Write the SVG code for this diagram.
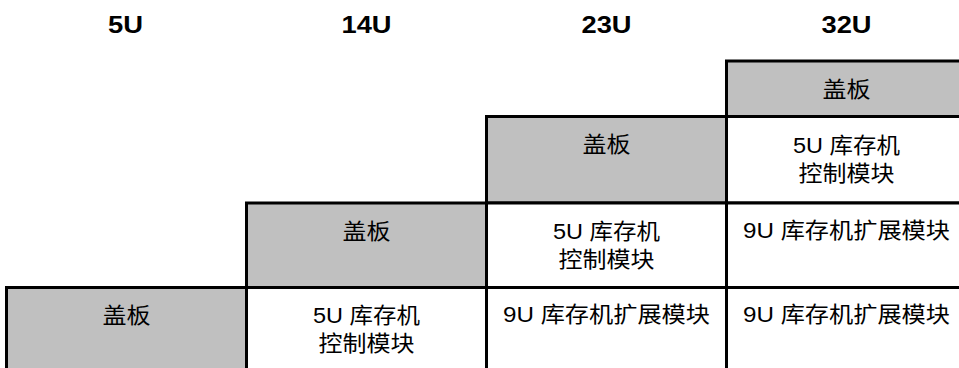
<svg xmlns="http://www.w3.org/2000/svg" width="959" height="368" viewBox="0 0 959 368">
<style>
.cell{stroke:#000;stroke-width:3;fill:#fff}
.cover{fill:#c0c0c0}
.hd{font-family:"Liberation Sans","Noto Sans CJK SC",sans-serif;font-weight:bold;font-size:24px;fill:#000;text-anchor:middle}
.t{font-family:"Liberation Sans","Noto Sans CJK SC",sans-serif;font-size:22px;fill:#000;text-anchor:middle}
</style>
<rect width="959" height="368" fill="#fff"/>
<g id="headers">
<text class="hd" x="125.5" y="33" textLength="35" lengthAdjust="spacingAndGlyphs">5U</text>
<text class="hd" x="366.5" y="33" textLength="50" lengthAdjust="spacingAndGlyphs">14U</text>
<text class="hd" x="606.5" y="33" textLength="50" lengthAdjust="spacingAndGlyphs">23U</text>
<text class="hd" x="846.5" y="33" textLength="50" lengthAdjust="spacingAndGlyphs">32U</text>
</g>
<g id="col1-cover">
<rect class="cell cover" x="6.5" y="287.5" width="240" height="90"/>
<text class="t" x="126.5" y="323" textLength="48" lengthAdjust="spacingAndGlyphs">盖板</text>
</g>
<g id="col2-cover">
<rect class="cell cover" x="246.5" y="203" width="240" height="84.5"/>
<text class="t" x="366.5" y="238.5" textLength="48" lengthAdjust="spacingAndGlyphs">盖板</text>
</g>
<g id="col2-ctrl">
<rect class="cell" x="246.5" y="287.5" width="240" height="90"/>
<text class="t" x="366.5" y="323" textLength="107" lengthAdjust="spacingAndGlyphs">5U 库存机</text>
<text class="t" x="366.5" y="351" textLength="96" lengthAdjust="spacingAndGlyphs">控制模块</text>
</g>
<g id="col3-cover">
<rect class="cell cover" x="486.5" y="116.5" width="240" height="86.5"/>
<text class="t" x="606.5" y="152" textLength="48" lengthAdjust="spacingAndGlyphs">盖板</text>
</g>
<g id="col3-ctrl">
<rect class="cell" x="486.5" y="203" width="240" height="84.5"/>
<text class="t" x="606.5" y="238.5" textLength="107" lengthAdjust="spacingAndGlyphs">5U 库存机</text>
<text class="t" x="606.5" y="266.5" textLength="96" lengthAdjust="spacingAndGlyphs">控制模块</text>
</g>
<g id="col3-exp">
<rect class="cell" x="486.5" y="287.5" width="240" height="90"/>
<text class="t" x="606.5" y="322" textLength="207" lengthAdjust="spacingAndGlyphs">9U 库存机扩展模块</text>
</g>
<g id="col4-cover">
<rect class="cell cover" x="726.5" y="61" width="240" height="55.5"/>
<text class="t" x="846.5" y="96.5" textLength="48" lengthAdjust="spacingAndGlyphs">盖板</text>
</g>
<g id="col4-ctrl">
<rect class="cell" x="726.5" y="116.5" width="240" height="86.5"/>
<text class="t" x="846.5" y="152.5" textLength="107" lengthAdjust="spacingAndGlyphs">5U 库存机</text>
<text class="t" x="846.5" y="180.5" textLength="96" lengthAdjust="spacingAndGlyphs">控制模块</text>
</g>
<g id="col4-exp1">
<rect class="cell" x="726.5" y="203" width="240" height="84.5"/>
<text class="t" x="846.5" y="238" textLength="207" lengthAdjust="spacingAndGlyphs">9U 库存机扩展模块</text>
</g>
<g id="col4-exp2">
<rect class="cell" x="726.5" y="287.5" width="240" height="90"/>
<text class="t" x="846.5" y="322" textLength="207" lengthAdjust="spacingAndGlyphs">9U 库存机扩展模块</text>
</g>
<g id="connectors"/>
</svg>
